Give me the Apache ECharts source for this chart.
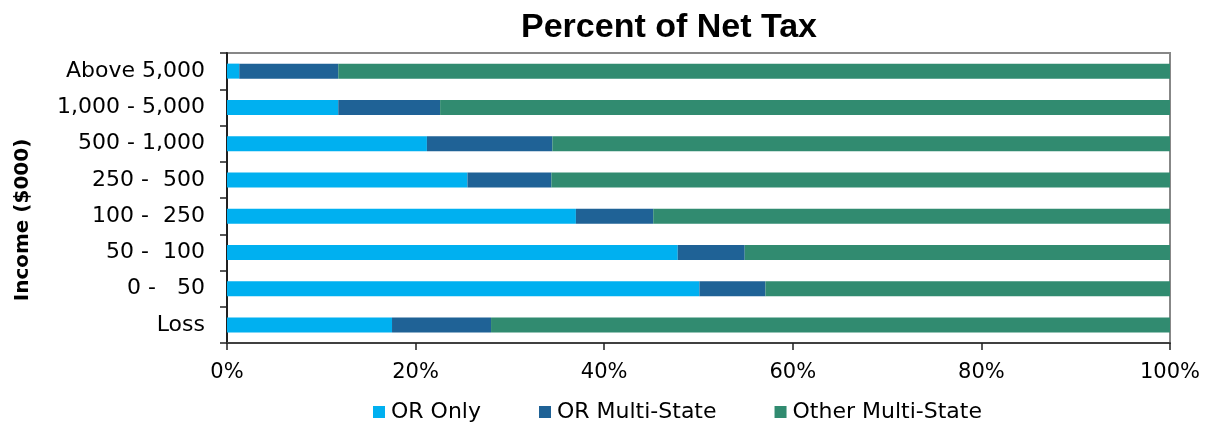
<!DOCTYPE html>
<html>
<head>
<meta charset="utf-8">
<script src="https://cdn.jsdelivr.net/npm/echarts@6/dist/echarts.min.js"></script>
<style>
  html, body { margin: 0; padding: 0; background: #fff; }
  #net_tax { width: 1209px; height: 422px; }
</style>
</head>
<body>
<div id="net_tax"></div>
<script>
// income brackets, bottom to top
const categories = ['Loss', '0 -   50', '50 -  100', '100 -  250', '250 -  500', '500 - 1,000', '1,000 - 5,000', 'Above 5,000'];
const orOnly = [17.5, 50.1, 47.8, 37.0, 25.5, 21.2, 11.8, 1.3];
const orMulti = [10.5, 7.0, 7.1, 8.2, 8.9, 13.3, 10.8, 10.5];
const otherMulti = [72.0, 42.9, 45.1, 54.8, 65.6, 65.5, 77.4, 88.2];
const xTicks = [0, 20, 40, 60, 80, 100];

const chart = echarts.init(document.getElementById('net_tax'));

const labelFont = 'DejaVu Sans';

const option = {
    animation: false,
    title: {
        text: 'Percent of Net Tax',
        left: 516,
        top: 6,
        textStyle: {
            fontFamily: 'Liberation Sans',
            fontSize: 34,
            fontWeight: 'bold',
            color: '#000'
        }
    },
    legend: {
        left: 368,
        top: 396,
        itemWidth: 12,
        itemHeight: 12,
        itemGap: 58,
        icon: 'rect',
        textStyle: { fontFamily: labelFont, fontSize: 22, color: '#000', padding: [0, 0, 0, 1] },
        data: ['OR Only', 'OR Multi-State', 'Other Multi-State']
    },
    grid: {
        left: 227,
        right: 39,
        top: 53,
        bottom: 79,
        show: true,
        borderColor: '#878787',
        borderWidth: 2,
        containLabel: false
    },
    xAxis: {
        type: 'value',
        min: xTicks[0],
        max: xTicks[xTicks.length - 1],
        interval: 20,
        axisLine: { show: true, lineStyle: { color: '#404040', width: 2 } },
        axisTick: { show: true, length: 7, lineStyle: { color: '#202020', width: 1.5 } },
        splitLine: { show: false },
        axisLabel: {
            margin: 19,
            fontFamily: labelFont,
            fontSize: 21,
            color: '#000',
            formatter: '{value}%'
        }
    },
    yAxis: {
        type: 'category',
        data: categories,
        name: 'Income ($000)',
        nameLocation: 'middle',
        nameGap: 194,
        nameRotate: 90,
        nameTextStyle: {
            fontFamily: labelFont,
            fontSize: 20,
            fontWeight: 'bold',
            color: '#000',
            padding: [0, 44, 0, 0]
        },
        axisLine: { show: true, lineStyle: { color: '#202020', width: 2 } },
        axisTick: { show: true, length: 7, lineStyle: { color: '#202020', width: 1.5 } },
        axisLabel: {
            margin: 22,
            fontFamily: labelFont,
            fontSize: 22,
            color: '#000'
        }
    },
    series: [
        { name: 'OR Only', type: 'bar', stack: 'tax', data: orOnly, barWidth: 15, itemStyle: { color: '#00B0F0' } },
        { name: 'OR Multi-State', type: 'bar', stack: 'tax', data: orMulti, barWidth: 15, itemStyle: { color: '#1F6296' } },
        { name: 'Other Multi-State', type: 'bar', stack: 'tax', data: otherMulti, barWidth: 15, itemStyle: { color: '#318B70' } }
    ]
};

chart.setOption(option);

window.addEventListener('resize', function () {
    chart.resize();
});
</script>
</body>
</html>
